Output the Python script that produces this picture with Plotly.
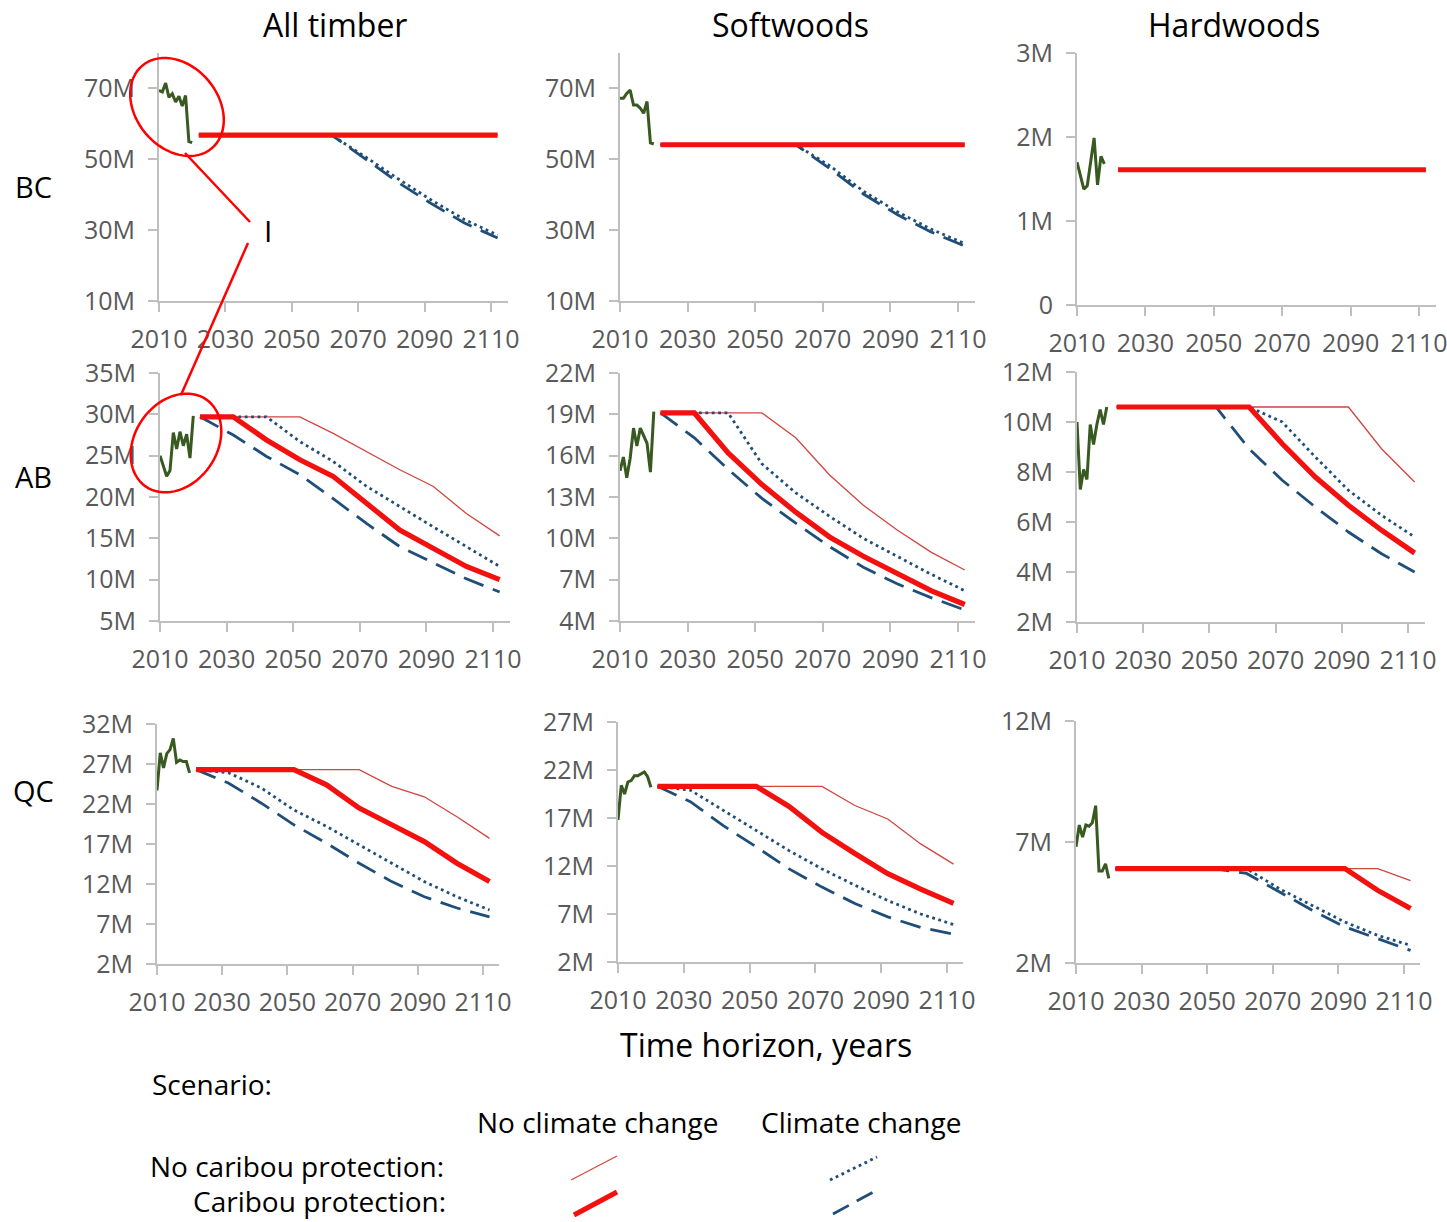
import numpy as np
import plotly.graph_objects as go

W, H = 1447, 1222

# ---------------------------------------------------------------- data (million m3)
HIST_YEARS = list(range(2010, 2021))
HIST_YEARS_BC_HW = list(range(2010, 2019))
HIST_YEARS_AB_HW = list(range(2010, 2020))
PROJ_YEARS = list(range(2022, 2113, 10))

# British Columbia
bc_all_hist = [69.5, 69.0, 71.5, 67.5, 68.5, 66.2, 67.8, 65.0, 68.0, 55.0, 54.7]
bc_all_nocc_nocar = [56.8, 56.8, 56.8, 56.8, 56.8, 56.8, 56.8, 56.8, 56.8, 56.8]
bc_all_nocc_car = [56.8, 56.8, 56.8, 56.8, 56.8, 56.8, 56.8, 56.8, 56.8, 56.8]
bc_all_cc_nocar = [56.8, 56.8, 56.8, 56.8, 56.8, 50.8, 44.5, 38.5, 33.0, 28.6]
bc_all_cc_car = [56.8, 56.8, 56.8, 56.8, 56.8, 50.2, 43.5, 37.5, 32.0, 27.8]

bc_sw_hist = [67.2, 67.2, 68.6, 69.5, 65.3, 65.3, 64.4, 63.0, 66.3, 54.6, 54.3]
bc_sw_nocc_nocar = [54.1, 54.1, 54.1, 54.1, 54.1, 54.1, 54.1, 54.1, 54.1, 54.1]
bc_sw_nocc_car = [54.1, 54.1, 54.1, 54.1, 54.1, 54.1, 54.1, 54.1, 54.1, 54.1]
bc_sw_cc_nocar = [54.1, 54.1, 54.1, 54.1, 54.1, 48.2, 41.0, 35.2, 30.3, 26.2]
bc_sw_cc_car = [54.1, 54.1, 54.1, 54.1, 54.1, 47.4, 40.2, 34.4, 29.5, 25.5]

bc_hw_hist = [1.70, 1.55, 1.38, 1.42, 1.70, 1.99, 1.43, 1.77, 1.68]
bc_hw_nocc_nocar = [1.61, 1.61, 1.61, 1.61, 1.61, 1.61, 1.61, 1.61, 1.61, 1.61]
bc_hw_nocc_car = [1.61, 1.61, 1.61, 1.61, 1.61, 1.61, 1.61, 1.61, 1.61, 1.61]
bc_hw_cc_nocar = [1.61, 1.61, 1.61, 1.61, 1.61, 1.61, 1.61, 1.61, 1.61, 1.61]
bc_hw_cc_car = [1.61, 1.61, 1.61, 1.61, 1.61, 1.61, 1.61, 1.61, 1.61, 1.61]

# Alberta
ab_all_hist = [25.0, 23.8, 22.5, 23.2, 27.8, 25.8, 27.9, 26.2, 27.6, 24.7, 29.8]
ab_all_nocc_nocar = [29.7, 29.7, 29.7, 29.7, 27.7, 25.5, 23.3, 21.3, 18.0, 15.3]
ab_all_nocc_car = [29.7, 29.7, 26.9, 24.5, 22.5, 19.2, 16.0, 13.8, 11.6, 10.0]
ab_all_cc_nocar = [29.7, 29.7, 29.7, 26.7, 24.3, 21.3, 18.8, 16.4, 14.0, 11.6]
ab_all_cc_car = [29.7, 27.5, 24.9, 22.7, 19.8, 16.8, 14.0, 12.0, 10.1, 8.5]

ab_sw_hist = [14.9, 15.9, 14.4, 15.8, 18.0, 16.7, 18.0, 17.5, 16.9, 14.8, 19.2]
ab_sw_nocc_nocar = [19.1, 19.1, 19.1, 19.1, 17.3, 14.6, 12.4, 10.6, 9.0, 7.7]
ab_sw_nocc_car = [19.1, 19.1, 16.2, 13.9, 11.9, 10.1, 8.7, 7.4, 6.2, 5.2]
ab_sw_cc_nocar = [19.1, 19.1, 19.1, 15.4, 13.3, 11.6, 10.0, 8.7, 7.4, 6.2]
ab_sw_cc_car = [19.1, 17.3, 15.0, 12.9, 11.1, 9.4, 7.9, 6.7, 5.7, 4.8]

ab_hw_hist = [10.0, 7.3, 8.1, 7.7, 9.9, 9.1, 9.9, 10.5, 9.9, 10.6]
ab_hw_nocc_nocar = [10.6, 10.6, 10.6, 10.6, 10.6, 10.6, 10.6, 10.6, 8.93, 7.6]
ab_hw_nocc_car = [10.6, 10.6, 10.6, 10.6, 10.6, 9.13, 7.8, 6.67, 5.67, 4.76]
ab_hw_cc_nocar = [10.6, 10.6, 10.6, 10.6, 10.6, 10.0, 8.6, 7.27, 6.27, 5.4]
ab_hw_cc_car = [10.6, 10.6, 10.6, 10.6, 8.93, 7.67, 6.6, 5.6, 4.73, 4.0]

# Quebec
qc_all_hist = [23.7, 28.4, 26.5, 28.3, 28.8, 30.2, 27.2, 27.5, 27.3, 27.3, 25.9]
qc_all_nocc_nocar = [26.3, 26.3, 26.3, 26.3, 26.3, 26.3, 24.2, 22.9, 20.4, 17.7]
qc_all_nocc_car = [26.3, 26.3, 26.3, 26.3, 24.4, 21.5, 19.4, 17.3, 14.6, 12.3]
qc_all_cc_nocar = [26.3, 25.9, 24.0, 21.25, 19.2, 16.9, 14.6, 12.3, 10.4, 8.75]
qc_all_cc_car = [26.3, 24.6, 22.1, 19.4, 17.1, 14.6, 12.3, 10.4, 9.0, 7.9]

qc_sw_hist = [16.8, 20.4, 19.5, 20.75, 20.9, 21.4, 21.4, 21.6, 21.8, 21.3, 20.2]
qc_sw_nocc_nocar = [20.3, 20.3, 20.3, 20.3, 20.3, 20.3, 18.3, 16.9, 14.3, 12.2]
qc_sw_nocc_car = [20.3, 20.3, 20.3, 20.3, 18.2, 15.5, 13.3, 11.2, 9.6, 8.1]
qc_sw_cc_nocar = [20.3, 19.9, 17.8, 15.7, 13.6, 11.7, 10.0, 8.4, 7.0, 5.9]
qc_sw_cc_car = [20.3, 18.7, 16.2, 14.0, 11.7, 9.8, 8.1, 6.7, 5.6, 4.9]

qc_hw_hist = [6.8, 7.7, 7.2, 7.7, 7.65, 7.8, 8.5, 5.8, 5.8, 6.1, 5.5]
qc_hw_nocc_nocar = [5.9, 5.9, 5.9, 5.9, 5.9, 5.9, 5.9, 5.9, 5.9, 5.4]
qc_hw_nocc_car = [5.9, 5.9, 5.9, 5.9, 5.9, 5.9, 5.9, 5.9, 5.0, 4.25]
qc_hw_cc_nocar = [5.9, 5.9, 5.9, 5.9, 5.9, 5.07, 4.38, 3.69, 3.14, 2.73]
qc_hw_cc_car = [5.9, 5.9, 5.9, 5.9, 5.7, 4.93, 4.18, 3.49, 3.0, 2.52]

COLUMN_TITLES = ["All timber", "Softwoods", "Hardwoods"]
ROW_TITLES = ["BC", "AB", "QC"]
X_TICKS = [2010, 2030, 2050, 2070, 2090, 2110]

# ---------------------------------------------------------------- panel layout
# (hist years, hist, thin, thick, dotted, dashed), x0 px, px/yr, top px, bottom px, y range, tick step
panels = [
    (HIST_YEARS, bc_all_hist, bc_all_nocc_nocar, bc_all_nocc_car, bc_all_cc_nocar, bc_all_cc_car,
     159, 3.32, 53, 301, (10, 80), 20),
    (HIST_YEARS, bc_sw_hist, bc_sw_nocc_nocar, bc_sw_nocc_car, bc_sw_cc_nocar, bc_sw_cc_car,
     620, 3.38, 53, 301, (10, 80), 20),
    (HIST_YEARS_BC_HW, bc_hw_hist, bc_hw_nocc_nocar, bc_hw_nocc_car, bc_hw_cc_nocar, bc_hw_cc_car,
     1077, 3.42, 53, 305, (0, 3), 1),
    (HIST_YEARS, ab_all_hist, ab_all_nocc_nocar, ab_all_nocc_car, ab_all_cc_nocar, ab_all_cc_car,
     160, 3.33, 373, 621, (5, 35), 5),
    (HIST_YEARS, ab_sw_hist, ab_sw_nocc_nocar, ab_sw_nocc_car, ab_sw_cc_nocar, ab_sw_cc_car,
     620, 3.38, 373, 621, (4, 22), 3),
    (HIST_YEARS_AB_HW, ab_hw_hist, ab_hw_nocc_nocar, ab_hw_nocc_car, ab_hw_cc_nocar, ab_hw_cc_car,
     1077, 3.31, 372, 622, (2, 12), 2),
    (HIST_YEARS, qc_all_hist, qc_all_nocc_nocar, qc_all_nocc_car, qc_all_cc_nocar, qc_all_cc_car,
     157, 3.26, 724, 964, (2, 32), 5),
    (HIST_YEARS, qc_sw_hist, qc_sw_nocc_nocar, qc_sw_nocc_car, qc_sw_cc_nocar, qc_sw_cc_car,
     618, 3.29, 722, 962, (2, 27), 5),
    (HIST_YEARS, qc_hw_hist, qc_hw_nocc_nocar, qc_hw_nocc_car, qc_hw_cc_nocar, qc_hw_cc_car,
     1076, 3.28, 721, 963, (2, 12), 5),
]

X_MIN, X_MAX = 2010, 2115

THIN_RED = "#D2453F"
RED = "#F2110F"
BLUE = "#1F4E79"
GREEN = "#38591F"
AXIS_GREY = "#BFBFBF"
TICK_GREY = "#595959"
FONT = "Open Sans"


def px_x(v):
    return v / W


def px_y(v):
    return 1 - v / H


def fmt_tick(v):
    return "0" if v == 0 else f"{v:g}M"


fig = go.Figure()
layout = {}

for i, (hx, hist, thin, thick, dot, dash, x0, ppy, top, bot, yr, step) in enumerate(panels, start=1):
    xa, ya = f"x{i}", f"y{i}"
    common = dict(xaxis=xa, yaxis=ya, mode="lines", showlegend=False, hoverinfo="skip")
    fig.add_trace(go.Scatter(x=PROJ_YEARS, y=thin, line=dict(color=THIN_RED, width=1.3), **common))
    fig.add_trace(go.Scatter(x=PROJ_YEARS, y=dash, line=dict(color=BLUE, width=2.8, dash="21px,10px"), **common))
    fig.add_trace(go.Scatter(x=PROJ_YEARS, y=dot, line=dict(color=BLUE, width=2.8, dash="2.8px,3.6px"), **common))
    fig.add_trace(go.Scatter(x=PROJ_YEARS, y=thick, line=dict(color=RED, width=5.2), **common))
    fig.add_trace(go.Scatter(x=hx, y=hist, line=dict(color=GREEN, width=3), **common))

    x1 = x0 + (X_MAX - X_MIN) * ppy
    tickvals = list(np.arange(yr[0], yr[1] + 1e-9, step))
    suffix = "" if i == 1 else str(i)
    layout["xaxis" + suffix] = dict(
        domain=[px_x(x0), px_x(x1)], range=[X_MIN, X_MAX], anchor=ya, automargin=False,
        tickvals=X_TICKS, ticktext=[str(t) for t in X_TICKS], ticklabeloverflow="allow",
        showline=True, linecolor=AXIS_GREY, linewidth=2,
        ticks="outside", ticklen=9, tickwidth=2, tickcolor=AXIS_GREY,
        showgrid=False, zeroline=False, ticklabelstandoff=6,
        tickfont=dict(family=FONT, size=25, color=TICK_GREY),
    )
    layout["yaxis" + suffix] = dict(
        domain=[px_y(bot), px_y(top)], range=list(yr), anchor=xa, automargin=False,
        tickvals=tickvals, ticktext=[fmt_tick(v) for v in tickvals], ticklabeloverflow="allow",
        showline=True, linecolor=AXIS_GREY, linewidth=2,
        ticks="outside", ticklen=9, tickwidth=2, tickcolor=AXIS_GREY,
        showgrid=False, zeroline=False, ticklabelstandoff=8,
        tickfont=dict(family=FONT, size=25, color=TICK_GREY),
    )

fig.update_layout(**layout)


# ---------------------------------------------------------------- text
def text(s, x, y, size, xanchor="center", color="black"):
    return dict(text=s, x=px_x(x), y=px_y(y), xref="paper", yref="paper",
                xanchor=xanchor, yanchor="middle", showarrow=False,
                font=dict(family=FONT, size=size, color=color))


annotations = []
for title, cx in zip(COLUMN_TITLES, [335, 790, 1234]):
    annotations.append(text(title, cx, 25, 32))
for title, cy in zip(ROW_TITLES, [187, 476, 790]):
    annotations.append(text(title, 33, cy, 29))
annotations += [
    text("Time horizon, years", 766, 1044, 32),
    text("Scenario:", 150, 1084, 28, xanchor="left"),
    text("No climate change", 597, 1122, 28),
    text("Climate change", 861, 1122, 28),
    text("No caribou protection:", 446, 1166, 28, xanchor="right"),
    text("Caribou protection:", 448, 1201, 28, xanchor="right"),
    text("I", 268, 230, 30),
]


# ---------------------------------------------------------------- callout ellipses, leader lines and legend keys
def ellipse_path(cx, cy, a, b, angle_deg, n=72):
    t = np.linspace(0, 2 * np.pi, n, endpoint=False)
    th = np.radians(angle_deg)
    xs = cx + a * np.cos(t) * np.cos(th) - b * np.sin(t) * np.sin(th)
    ys = cy + a * np.cos(t) * np.sin(th) + b * np.sin(t) * np.cos(th)
    pts = [f"{px_x(x):.5f},{px_y(y):.5f}" for x, y in zip(xs, ys)]
    return "M " + " L ".join(pts) + " Z"


def seg(xa_, ya_, xb, yb, color, width, dash=None):
    line = dict(color=color, width=width)
    if dash:
        line["dash"] = dash
    return dict(type="line", xref="paper", yref="paper",
                x0=px_x(xa_), y0=px_y(ya_), x1=px_x(xb), y1=px_y(yb), line=line, layer="above")


shapes = [
    dict(type="path", xref="paper", yref="paper", path=ellipse_path(177, 107, 54, 41, 50),
         line=dict(color="#FF0000", width=2.5), layer="above"),
    dict(type="path", xref="paper", yref="paper", path=ellipse_path(176, 443, 53, 41, -55),
         line=dict(color="#FF0000", width=2.5), layer="above"),
    seg(185, 153, 250, 222, "#FF0000", 2.5),
    seg(248, 243, 181, 395, "#FF0000", 2.5),
    seg(571, 1180, 617, 1156, THIN_RED, 1.3),
    seg(574, 1215, 617, 1192, RED, 5.2),
    seg(830, 1180, 877, 1157, BLUE, 2.8, "2.8px,3.6px"),
    seg(833, 1214, 877, 1190, BLUE, 2.8, "18px,9px"),
]

fig.update_layout(
    width=W, height=H,
    margin=dict(l=0, r=0, t=0, b=0, pad=0, autoexpand=False),
    paper_bgcolor="white", plot_bgcolor="white",
    annotations=annotations, shapes=shapes,
    font=dict(family=FONT),
)

fig.write_html("out.html")
